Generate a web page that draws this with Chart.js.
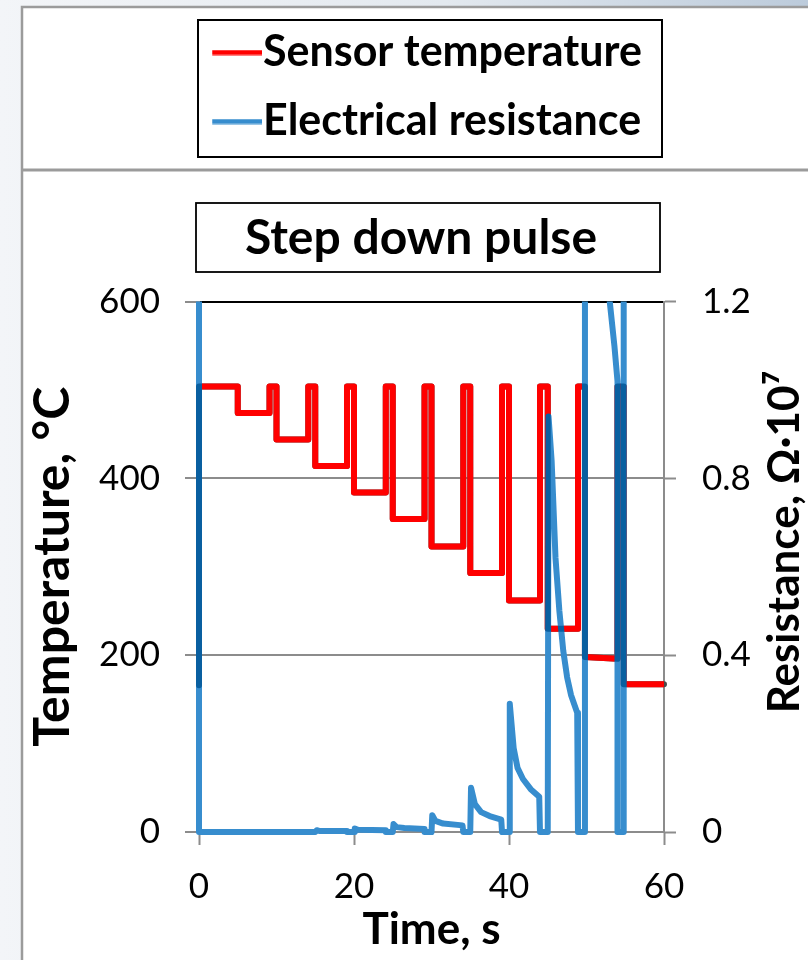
<!DOCTYPE html>
<html>
<head>
<meta charset="utf-8">
<script src="https://cdn.jsdelivr.net/npm/chart.js@4.4.1/dist/chart.umd.min.js"></script>
<style>
html, body { margin: 0; padding: 0; background: #ffffff; }
canvas { display: block; }
</style>
</head>
<body>
<canvas id="c" width="808" height="960"></canvas>
<script>
// ---------------- data ----------------
const chartTitle = 'Step down pulse';
const seriesNames = ['Sensor temperature', 'Electrical resistance'];
const xAxisTitle = 'Time, s';
const leftAxisTitle = 'Temperature, °C';
const rightAxisTitle = 'Resistance, Ω·10⁷';
const xTicks = [0, 20, 40, 60];
const leftTicks = [0, 200, 400, 600];
const rightTicks = [0, 0.4, 0.8, 1.2];
const rightTickLabels = ['0', '0.4', '0.8', '1.2'];

// Sensor temperature, °C (left axis)
const tempTime = [0, 0, 5, 5, 9.1, 9.1, 10, 10, 14.1, 14.1, 15, 15, 19.1, 19.1, 20, 20,
  24.1, 24.1, 25, 25, 29.1, 29.1, 30, 30, 34.1, 34.1, 35, 35, 39.1, 39.1, 40, 40,
  44.0, 44.0, 45, 45, 48.9, 48.9, 49.8, 49.8, 54.0, 54.0, 54.8, 54.8, 60];
const tempValues = [166, 504, 504, 474, 474, 504, 504, 444, 444, 504, 504, 414, 414, 504, 504, 384,
  384, 504, 504, 354, 354, 504, 504, 323, 323, 504, 504, 293, 293, 504, 504, 262,
  262, 504, 504, 230, 230, 504, 504, 198, 196, 504, 504, 167, 167];

// Electrical resistance, Ohm*1e7 (right axis)
const resTime = [0, 0, 15.0, 15.2, 15.6, 19.1, 19.1, 20.0, 20.1, 20.5, 24.1, 24.1,
  25.0, 25.1, 25.5, 26.5, 29.1, 29.1, 30.0, 30.1, 30.5, 31.5, 34.0, 34.1,
  35.0, 35.1, 35.6, 36.4, 37.5, 39.0, 39.1, 40.0, 40.1, 40.6, 41.1, 41.8, 42.8, 43.9, 44.0,
  45.0, 45.1, 45.5, 46.0, 46.5, 47.0, 47.5, 48.0, 48.8, 48.9, 49.8, 49.8,
  52.6, 53.0, 53.6, 54.0, 54.0, 54.8, 54.8, 60];
const resValues = [1.5, 0, 0, 0.004, 0.002, 0.002, 0, 0, 0.008, 0.005, 0.004, 0,
  0, 0.018, 0.011, 0.009, 0.007, 0, 0, 0.038, 0.025, 0.019, 0.015, 0,
  0, 0.10, 0.063, 0.045, 0.036, 0.028, 0, 0, 0.29, 0.19, 0.145, 0.12, 0.097, 0.08, 0,
  0, 0.94, 0.84, 0.62, 0.50, 0.41, 0.35, 0.31, 0.27, 0, 0, 1.5,
  1.4, 1.2, 1.1, 1.02, 0, 0, 1.5, 1.5];

// ---------------- styling ----------------
const RED = '#ff0000';
const BLUE = '#378dce';
const GRAY = '#8c8c8c';
const FONT = 'Lato';

function makeSample(color) {
  const c = document.createElement('canvas');
  c.width = 58; c.height = 6;
  const g = c.getContext('2d');
  g.fillStyle = color;
  g.fillRect(8, 0.5, 50, 5);
  return c;
}
const samples = [makeSample(RED), makeSample(BLUE)];

const framePlugin = {
  id: 'frame',
  beforeDraw(chart) {
    const ctx = chart.ctx, W = chart.width, H = chart.height;
    ctx.save();
    const g = ctx.createLinearGradient(0, 0, W, 0);
    g.addColorStop(0, '#f3f5f8');
    g.addColorStop(0.55, '#e3e9ef');
    g.addColorStop(1, '#bccbdb');
    ctx.fillStyle = g;
    ctx.fillRect(0, 0, W, H);
    ctx.fillStyle = '#ffffff';
    ctx.fillRect(22, 7, W - 22, H - 7);
    ctx.strokeStyle = '#9b9b9b';
    ctx.lineWidth = 2.5;
    ctx.beginPath(); ctx.moveTo(22, H); ctx.lineTo(22, 7); ctx.lineTo(W, 7); ctx.stroke();
    ctx.lineWidth = 3;
    ctx.beginPath(); ctx.moveTo(22, 170); ctx.lineTo(W, 170); ctx.stroke();
    ctx.strokeStyle = '#000000';
    ctx.lineWidth = 2;
    ctx.strokeRect(198, 20, 464, 137);
    ctx.lineWidth = 1.8;
    ctx.strokeRect(196, 203, 464, 69);
    ctx.restore();
  }
};

const layoutPlugin = {
  id: 'titlePos',
  afterLayout(chart) {
    const t = chart.titleBlock;
    if (t) { t.left = 180; t.right = 662; t.width = t.right - t.left; }
  }
};

const overlapPlugin = {
  id: 'overlap',
  afterDatasetsDraw(chart) {
    const meta = chart.getDatasetMeta(0);
    const a = chart.chartArea, ctx = chart.ctx;
    ctx.save();
    ctx.beginPath();
    ctx.rect(a.left - 5, a.top - 5, a.right - a.left + 10, a.bottom - a.top + 10);
    ctx.clip();
    ctx.globalCompositeOperation = 'luminosity';
    meta.dataset.draw(ctx, a);
    ctx.restore();
  }
};

const rightTitlePlugin = {
  id: 'rightTitle',
  afterDraw(chart) {
    const ctx = chart.ctx;
    const s = chart.scales.y1;
    ctx.save();
    ctx.translate(s.right - 23, 542);
    ctx.rotate(-Math.PI / 2);
    ctx.font = 'bold 44px ' + FONT;
    ctx.fillStyle = '#000000';
    ctx.textAlign = 'center';
    ctx.textBaseline = 'middle';
    ctx.fillText(rightAxisTitle, 0, 0);
    ctx.restore();
  }
};

function build() {
  Chart.defaults.font.family = FONT;
  Chart.defaults.color = '#000000';
  const tempData = tempTime.map((t, i) => ({ x: t, y: tempValues[i] }));
  const resData = resTime.map((t, i) => ({ x: t, y: resValues[i] }));
  const tickFont = { family: FONT, size: 35 };
  new Chart(document.getElementById('c'), {
    type: 'line',
    data: {
      datasets: [
        { label: seriesNames[0], data: tempData, yAxisID: 'y', borderColor: RED, backgroundColor: RED,
          borderWidth: 6, pointRadius: 0, tension: 0, borderJoinStyle: 'round', borderCapStyle: 'round', order: 1 },
        { label: seriesNames[1], data: resData, yAxisID: 'y1', borderColor: BLUE, backgroundColor: BLUE,
          borderWidth: 6, pointRadius: 0, tension: 0, borderJoinStyle: 'round', borderCapStyle: 'round', order: 0,
          clip: { left: 5, top: 0, right: 5, bottom: 5 } }
      ]
    },
    options: {
      responsive: false,
      devicePixelRatio: 1,
      animation: false,
      events: [],
      layout: { padding: { top: 5, left: 5, right: 0, bottom: 0 } },
      plugins: {
        tooltip: { enabled: false },
        legend: {
          position: 'top', align: 'start', fullSize: false, weight: 3000,
          labels: {
            usePointStyle: true, pointStyleWidth: 16.5, padding: 26, color: '#000000',
            font: { family: FONT, size: 43, weight: 'bold' },
            generateLabels(chart) {
              const items = Chart.defaults.plugins.legend.labels.generateLabels(chart);
              items.forEach((it, i) => { it.pointStyle = samples[i]; it.text = seriesNames[i]; });
              return items;
            }
          }
        },
        title: {
          display: true, text: chartTitle, color: '#000000', fullSize: true,
          font: { family: FONT, size: 48, weight: 'bold' },
          padding: { top: 57, bottom: 34 }
        }
      },
      scales: {
        x: {
          type: 'linear', position: 'bottom', min: 0, max: 60,
          afterBuildTicks(s) { s.ticks = xTicks.map(v => ({ value: v })); },
          afterFit(s) { s.height = 128; },
          ticks: { font: tickFont, color: '#000000', padding: 21, maxRotation: 0 },
          grid: { drawOnChartArea: false, tickLength: 13, tickColor: GRAY, tickWidth: 2 },
          border: { display: true, color: GRAY, width: 2 },
          title: { display: true, text: xAxisTitle, color: '#000000',
            font: { family: FONT, size: 44, weight: 'bold' }, padding: { top: 0, bottom: 4 } }
        },
        y: {
          type: 'linear', position: 'left', min: 0, max: 600,
          afterBuildTicks(s) { s.ticks = leftTicks.map(v => ({ value: v })); },
          afterFit(s) { s.width = 194; },
          ticks: { font: tickFont, color: '#000000', padding: 25 },
          grid: {
            drawOnChartArea: true, lineWidth: 2, tickLength: 14, tickColor: GRAY, tickWidth: 2,
            color: (c) => (c.tick && c.tick.value === 600) ? '#000000' : GRAY
          },
          border: { display: true, color: GRAY, width: 2 },
          title: { display: true, text: leftAxisTitle, color: '#000000',
            font: { family: FONT, size: 50, weight: 'bold' }, padding: { top: 18, bottom: 0 } }
        },
        y1: {
          type: 'linear', position: 'right', min: 0, max: 1.2,
          afterBuildTicks(s) { s.ticks = rightTicks.map(v => ({ value: v })); },
          afterFit(s) { s.width = 144; },
          ticks: { font: tickFont, color: '#000000', padding: 26,
            callback: (v, i) => rightTickLabels[i] },
          grid: { drawOnChartArea: false, tickLength: 12, tickColor: GRAY, tickWidth: 2 },
          border: { display: true, color: GRAY, width: 2 },
          title: { display: false, text: rightAxisTitle }
        }
      }
    },
    plugins: [framePlugin, layoutPlugin, overlapPlugin, rightTitlePlugin]
  });
}

const loads = ['bold 44px ' + FONT, '35px ' + FONT].map(f => document.fonts.load(f, 'Aa0Ω·⁷°'));
Promise.all(loads).then(build, build);
</script>
</body>
</html>
